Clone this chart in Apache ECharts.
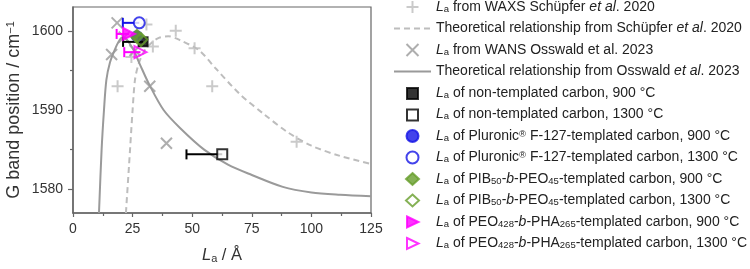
<!DOCTYPE html>
<html>
<head>
<meta charset="utf-8">
<script src="https://cdn.jsdelivr.net/npm/echarts@6/dist/echarts.min.js"></script>
<style>
  html, body { margin: 0; padding: 0; background: #fff; }
  #chart { width: 750px; height: 269px; }
</style>
</head>
<body>
<div id="chart"></div>
<script>
// L_a (Å) vs G band position (cm-1)
const waxsX = [18.7, 24.5, 30.8, 33.5, 43.1, 51, 58.4, 93.8];
const waxsY = [1593, 1596.7, 1600.8, 1598, 1600, 1597.8, 1593, 1586];
const wansX = [16.2, 18.5, 21.5, 26, 32.2, 39.2];
const wansY = [1597, 1601, 1599.2, 1597.5, 1593, 1585.8];

const schTheoX = [22.2, 23.5, 25, 26, 27.5, 30, 33, 36, 40, 45, 53, 60, 70, 80, 90, 100, 112, 125];
const schTheoY = [1577, 1583, 1590, 1593.8, 1595.8, 1597.5, 1598.5, 1599.1, 1599.3, 1598.8, 1597.5, 1595.2, 1592, 1589.5, 1587.2, 1585.5, 1584.2, 1583.2];
const ossTheoX = [10.9, 12, 13, 14, 15.5, 17.5, 19.5, 21, 25, 28, 32, 38, 45, 55, 65, 75, 88, 100, 112, 125];
const ossTheoY = [1577, 1585, 1590, 1593.8, 1596, 1597.6, 1598.8, 1599.2, 1597.8, 1595.8, 1593.2, 1590, 1587.7, 1585, 1583.1, 1581.8, 1580.3, 1579.6, 1579.3, 1579.1];

// samples: [L_a, G band]
const nt900 = [29.4, 1598.6];
const nt1300 = [62.6, 1584.4];
const pl900 = [26.8, 1599.3];
const pl1300 = [27.8, 1601];
const pib900 = [26.8, 1599.3];
const pib1300 = [28.5, 1598.9];
const pha900 = [23.5, 1599.6];
const pha1300 = [28.3, 1597.3];

// horizontal error bars: y, low x, high x
const errY = [1598.6, 1584.4, 1601, 1599.6, 1597.3];
const errLow = [21, 47.6, 20.9, 18.3, 21.5];
const errHigh = [29.4, 62.6, 27.8, 23.5, 28.3];
const errColor = ['#000', '#000', '#1414e6', '#ff00ff', '#ff00ff'];

const yTicks = [1580, 1590, 1600];
const yMinor = [1585, 1595];

const GRAY = '#9a9a9a';
const LIGHT = '#bdbdbd';
const BLUE = '#1414e6';
const GREEN = '#669e2a';
const MAG = '#ff00ff';

const labels = {
  waxs: '{i|L}{sub|a} from WAXS Schüpfer {i|et al}. 2020',
  schTheo: 'Theoretical relationship from Schüpfer {i|et al}. 2020',
  wans: '{i|L}{sub|a} from WANS Osswald et al. 2023',
  ossTheo: 'Theoretical relationship from Osswald {i|et al}. 2023',
  nt900: '{i|L}{sub|a} of non-templated carbon, 900 °C',
  nt1300: '{i|L}{sub|a} of non-templated carbon, 1300 °C',
  pl900: '{i|L}{sub|a} of Pluronic{sup|®} F-127-templated carbon, 900 °C',
  pl1300: '{i|L}{sub|a} of Pluronic{sup|®} F-127-templated carbon, 1300 °C',
  pib900: '{i|L}{sub|a} of PIB{sub|50}-{i|b}-PEO{sub|45}-templated carbon, 900 °C',
  pib1300: '{i|L}{sub|a} of PIB{sub|50}-{i|b}-PEO{sub|45}-templated carbon, 1300 °C',
  pha900: '{i|L}{sub|a} of PEO{sub|428}-{i|b}-PHA{sub|265}-templated carbon, 900 °C',
  pha1300: '{i|L}{sub|a} of PEO{sub|428}-{i|b}-PHA{sub|265}-templated carbon, 1300 °C'
};
const lineKeys = ['schTheo', 'ossTheo'];

// legend icons padded to the 37x12 item box so they are not stretched
const PAD = 'M0,0L0,0M37,12L37,12';
const legendIcons = {
  nt900: 'path://' + PAD + 'M13,1H24V12H13Z',
  nt1300: 'path://' + PAD + 'M13,1H24V12H13Z',
  pib900: 'path://' + PAD + 'M18.5,0L25,6L18.5,12L12,6Z',
  pib1300: 'path://' + PAD + 'M18.5,0L25,6L18.5,12L12,6Z',
  pha900: 'path://' + PAD + 'M13,0.5L24.5,6L13,11.5Z',
  pha1300: 'path://' + PAD + 'M13,0.5L24.5,6L13,11.5Z'
};

const zip = (xs, ys) => xs.map((x, i) => [x, ys[i]]);
const FONT = 'Liberation Sans, Arial, sans-serif';

const plusPath = 'path://M5,0L5,10M0,5L10,5';
const crossPath = 'path://M0,0L10,10M10,0L0,10';

const chart = echarts.init(document.getElementById('chart'));

function marker(name, pt, symbol, size, fill, stroke, rotate) {
  return {
    name: name,
    type: 'scatter',
    data: [pt],
    symbol: symbol,
    symbolSize: size,
    symbolKeepAspect: true,
    symbolRotate: rotate || 0,
    itemStyle: { color: fill, borderColor: stroke, borderWidth: 2 },
    z: 5
  };
}

chart.setOption({
  animation: false,
  textStyle: { fontFamily: FONT },
  grid: {
    left: 73, right: 379, top: 7, bottom: 55,
    show: true, borderColor: '#666', borderWidth: 1.2, backgroundColor: 'transparent'
  },
  xAxis: {
    type: 'value', min: 0, max: 125, interval: 25,
    name: '{i|L}{sub|a} / Å',
    nameLocation: 'middle', nameGap: 34,
    nameTextStyle: {
      fontSize: 16.5, color: '#333', fontFamily: FONT,
      rich: {
        i: { fontStyle: 'italic', fontSize: 16.5, fontFamily: FONT },
        sub: { fontSize: 11, verticalAlign: 'bottom', lineHeight: 10, fontFamily: FONT }
      }
    },
    axisLine: { onZero: false, lineStyle: { color: '#666', width: 1.5 } },
    axisTick: { length: 4, lineStyle: { color: '#666', width: 1.2 } },
    minorTick: { show: true, splitNumber: 2, length: 3, lineStyle: { color: '#666', width: 1.2 } },
    axisLabel: { fontSize: 14, color: '#333', margin: 9, fontFamily: FONT },
    splitLine: { show: false }
  },
  yAxis: [{
    type: 'value', min: 1577, max: 1603,
    name: 'G band position / cm{sup|−1}',
    nameLocation: 'middle', nameGap: 50,
    nameTextStyle: {
      fontSize: 18, color: '#333', fontFamily: FONT,
      rich: { sup: { fontSize: 11, verticalAlign: 'top', lineHeight: 10, fontFamily: FONT } }
    },
    axisLine: { onZero: false, lineStyle: { color: '#666', width: 1.5 } },
    axisTick: { length: 5, customValues: yTicks, lineStyle: { color: '#666', width: 1.2 } },
    axisLabel: {
      fontSize: 14, color: '#333', margin: 10, customValues: yTicks, fontFamily: FONT,
      formatter: v => String(v)
    },
    splitLine: { show: false }
  }, {
    type: 'value', min: 1577, max: 1603, position: 'left',
    axisLine: { show: false },
    axisTick: { length: 3, customValues: yMinor, lineStyle: { color: '#666', width: 1.2 } },
    axisLabel: { show: false },
    splitLine: { show: false }
  }],
  legend: {
    orient: 'vertical', left: 388, top: -5,
    itemWidth: 37, itemHeight: 12, itemGap: 7.5,
    data: Object.keys(labels).map(k => {
      if (lineKeys.indexOf(k) >= 0) return { name: k, itemStyle: { opacity: 0 } };
      if (legendIcons[k]) return { name: k, icon: legendIcons[k] };
      return { name: k };
    }),
    formatter: name => labels[name],
    textStyle: {
      fontSize: 14, color: '#222', fontFamily: FONT, lineHeight: 14,
      rich: {
        i: { fontStyle: 'italic', fontSize: 14, fontFamily: FONT, lineHeight: 14 },
        sub: { fontSize: 9.5, verticalAlign: 'bottom', lineHeight: 9, fontFamily: FONT },
        sup: { fontSize: 9.5, verticalAlign: 'top', lineHeight: 9, fontFamily: FONT }
      }
    }
  },
  series: [
    {
      name: 'waxs', type: 'scatter', data: zip(waxsX, waxsY),
      symbol: plusPath, symbolSize: 12,
      itemStyle: { color: 'rgba(0,0,0,0)', borderColor: LIGHT, borderWidth: 2 }, z: 2
    },
    {
      name: 'schTheo', type: 'line', data: zip(schTheoX, schTheoY),
      symbol: 'none', smooth: 0.3,
      lineStyle: { color: LIGHT, width: 2, type: [6, 4] }, itemStyle: { color: LIGHT }, z: 1
    },
    {
      name: 'wans', type: 'scatter', data: zip(wansX, wansY),
      symbol: crossPath, symbolSize: 11,
      itemStyle: { color: 'rgba(0,0,0,0)', borderColor: GRAY, borderWidth: 2 }, z: 2
    },
    {
      name: 'ossTheo', type: 'line', data: zip(ossTheoX, ossTheoY),
      symbol: 'none', smooth: 0.3,
      lineStyle: { color: GRAY, width: 2 }, itemStyle: { color: GRAY }, z: 1
    },
    {
      name: 'errbars', type: 'custom', z: 3,
      data: errY.map((y, i) => [y, errLow[i], errHigh[i], i]),
      encode: { x: [1, 2], y: 0 },
      renderItem: function (params, api) {
        const y = api.value(0);
        const p1 = api.coord([api.value(1), y]);
        const p2 = api.coord([api.value(2), y]);
        const c = errColor[api.value(3)];
        const st = { stroke: c, lineWidth: 2 };
        return {
          type: 'group',
          children: [
            { type: 'line', shape: { x1: p1[0], y1: p1[1], x2: p2[0], y2: p2[1] }, style: st },
            { type: 'line', shape: { x1: p1[0], y1: p1[1] - 5, x2: p1[0], y2: p1[1] + 5 }, style: st }
          ]
        };
      }
    },
    marker('nt900', nt900, 'rect', 9, '#000', '#000'),
    marker('nt1300', nt1300, 'rect', 10, '#fff', '#000'),
    marker('pl900', pl900, 'circle', 10, BLUE, BLUE),
    marker('pl1300', pl1300, 'circle', 11, '#fff', BLUE),
    marker('pib900', pib900, 'diamond', 13, GREEN, GREEN),
    marker('pib1300', pib1300, 'diamond', 13, 'rgba(255,255,255,0)', GREEN),
    marker('pha900', pha900, 'triangle', 12, MAG, MAG, -90),
    marker('pha1300', pha1300, 'triangle', 12, 'rgba(255,255,255,0)', MAG, -90)
  ]
});
</script>
</body>
</html>
